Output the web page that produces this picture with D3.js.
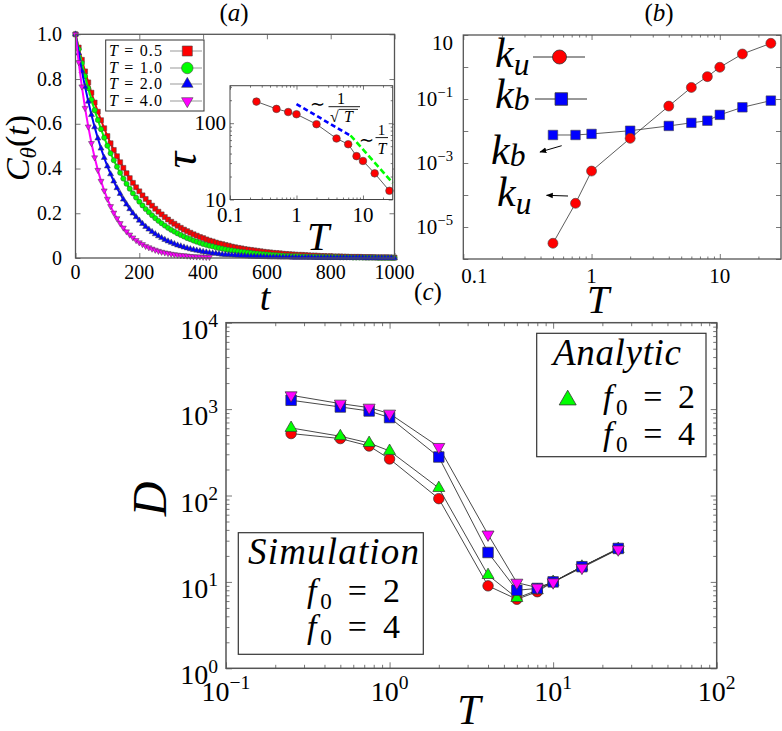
<!DOCTYPE html>
<html><head><meta charset="utf-8">
<script src="https://cdn.jsdelivr.net/npm/d3@7"></script>
<style>
body{margin:0;background:#fff}
svg{display:block}
</style></head><body>
<svg id="c" width="782" height="731"></svg>
<script>
// ---------------- DATA ----------------
// Panel (a): C_theta(t), sampled every tStep
const tStep = 10;
const seriesT = ["0.5", "1.0", "2.0", "4.0"];
const cT05 = [1.000,0.941,0.886,0.834,0.785,0.739,0.695,0.654,0.616,0.580,
0.545,0.513,0.483,0.455,0.428,0.403,0.379,0.357,0.336,0.316,
0.298,0.280,0.264,0.248,0.234,0.220,0.207,0.195,0.183,0.172,
0.162,0.153,0.144,0.135,0.127,0.120,0.113,0.106,0.100,0.094,
0.089,0.083,0.078,0.074,0.069,0.065,0.062,0.058,0.055,0.051,
0.048,0.045,0.043,0.040,0.038,0.036,0.034,0.032,0.030,0.028,
0.026,0.025,0.023,0.022,0.021,0.019,0.018,0.017,0.016,0.015,
0.014,0.014,0.013,0.012,0.011,0.011,0.010,0.009,0.009,0.008,
0.008,0.007,0.007,0.007,0.006,0.006,0.005,0.005,0.005,0.005,
0.004,0.004,0.004,0.004,0.003,0.003,0.003,0.003,0.003,0.002,
0.002];
const cT10 = [1.000,0.933,0.871,0.813,0.759,0.708,0.661,0.617,0.576,0.538,
0.502,0.468,0.437,0.408,0.381,0.355,0.332,0.310,0.289,0.270,
0.252,0.235,0.219,0.205,0.191,0.178,0.166,0.155,0.145,0.135,
0.126,0.118,0.110,0.103,0.096,0.089,0.084,0.078,0.073,0.068,
0.063,0.059,0.055,0.052,0.048,0.045,0.042,0.039,0.036,0.034,
0.032,0.030,0.028,0.026,0.024,0.023,0.021,0.020,0.018,0.017,
0.016,0.015,0.014,0.013,0.012,0.011,0.010,0.010,0.009,0.009,
0.008,0.007,0.007,0.006,0.006,0.006,0.005,0.005,0.005,0.004,
0.004,0.004,0.004,0.003,0.003,0.003,0.003,0.002,0.002,0.002,
0.002,0.002,0.002,0.002,0.002,0.001,0.001,0.001,0.001,0.001,
0.001];
const cT20 = [1.000,0.915,0.836,0.765,0.700,0.640,0.585,0.535,0.490,0.448,
0.410,0.375,0.343,0.313,0.287,0.262,0.240,0.219,0.200,0.183,
0.168,0.153,0.140,0.128,0.117,0.107,0.098,0.090,0.082,0.075,
0.069,0.063,0.057,0.053,0.048,0.044,0.040,0.037,0.034,0.031,
0.028,0.026,0.023,0.021,0.020,0.018,0.016,0.015,0.014,0.013,
0.012,0.011,0.010,0.009,0.008,0.007,0.007,0.006,0.006,0.005,
0.005,0.004,0.004,0.004,0.003,0.003,0.003,0.003,0.002,0.002,
0.002,0.002,0.002,0.002,0.002,0.001,0.001,0.001,0.001,0.001,
0.001,0.001,0.001,0.001,0.001,0.001,0.001,0.001,0.001,0.001,
0.001,0.000,0.000,0.000,0.000,0.000,0.000,0.000,0.000,0.000,
0.000];
const cT40 = [1.000,0.875,0.766,0.670,0.587,0.513,0.449,0.393,0.344,0.301,
0.264,0.231,0.202,0.177,0.155,0.135,0.118,0.104,0.091,0.079,
0.069,0.061,0.053,0.047,0.041,0.036,0.031,0.027,0.024,0.021,
0.018,0.016,0.014,0.012,0.011,0.010,0.008,0.007,0.006,0.006,
0.005,0.004,0.004];
const xTicksA = [0, 200, 400, 600, 800, 1000];
const yTicksA = [0, 0.2, 0.4, 0.6, 0.8, 1.0];
const yLabelsA = ["0", "0.2", "0.4", "0.6", "0.8", "1.0"];

// Inset of (a): tau vs T
const tauT = [0.25, 0.5, 0.75, 1, 2, 4, 6, 8, 10, 15, 25];
const tauVal = [192, 154, 140, 131, 97, 63, 53, 37, 32, 22, 13];
const guideSqrtT = [[1, 178], [6.4, 69]];
const guideInvT = [[6.5, 69], [28, 16.5]];
const insetXTicks = [0.1, 1, 10];
const insetXLabels = ["0.1", "1", "10"];
const insetYTicks = [10, 100];
const insetYLabels = ["10", "100"];

// Panel (b): rates
const kT = [0.5, 0.75, 1, 2, 4, 6, 8, 10, 15, 25];
const ku = [3.1e-6, 5.5e-5, 5.6e-4, 5.9e-3, 0.06, 0.23, 0.5, 0.98, 2.55, 5.5];
const kb = [7.5e-3, 7.5e-3, 8.1e-3, 0.0102, 0.0144, 0.018, 0.021, 0.032, 0.055, 0.089];
const bXTicks = [0.1, 1, 10];
const bXLabels = ["0.1", "1", "10"];
const bYTicks = [1e-6, 1e-5, 1e-4, 1e-3, 1e-2, 1e-1, 1, 10];
const bYLabeled = [[10, "10", ""], [1e-1, "10", "\u22121"], [1e-3, "10", "\u22123"], [1e-5, "10", "\u22125"]];

// Panel (c): D vs T
const dT = [0.25, 0.5, 0.75, 1, 2, 4, 6, 8, 10, 15, 25];
const simF2 = [521, 456, 374, 265, 92, 9.0, 6.3, 7.7, 10, 15, 24];
const anaF2 = [605, 485, 405, 328, 122, 12, 6.5, 8.0, 10, 15, 24];
const simF4 = [1265, 1058, 951, 798, 279, 21.9, 8.0, 8.4, 10.0, 15, 24.4];
const anaF4 = [1445, 1158, 1040, 887, 365, 35.4, 9.8, 8.6, 9.9, 14.6, 23.8];
const cXTicks = [0.1, 1, 10, 100];
const cXExp = ["\u22121", "0", "1", "2"];
const cYTicks = [1, 10, 100, 1000, 10000];
const cYExp = ["0", "1", "2", "3", "4"];

// ---------------- HELPERS ----------------
const FONT = "Liberation Serif";
const svg = d3.select("#c").style("font-family", FONT);
const RED = "#ff0000", GREEN = "#00ff00", BLUE = "#0000ff", MAG = "#ff00ff";

function txt(g, x, y, s, size, anchor) {
  return g.append("text").attr("x", x).attr("y", y).style("font-size", size + "px")
    .attr("text-anchor", anchor || "start").style("font-family", FONT).attr("fill", "#000").text(s);
}

function rich(g, x, y, segs, size, anchor, opts) {
  opts = opts || {};
  const t = g.append("text").attr("x", x).attr("y", y).style("font-size", size + "px")
    .attr("text-anchor", anchor || "start").style("font-family", FONT).attr("fill", "#000");
  if (opts.len) t.attr("textLength", opts.len).attr("lengthAdjust", "spacing");
  if (opts.transform) t.attr("transform", opts.transform);
  let shift = 0;
  const subK = opts.subK == null ? 0.25 : opts.subK;
  segs.forEach(s => {
    const sp = t.append("tspan").text(s.t).style("font-family", FONT);
    if (s.i) sp.style("font-style", "italic");
    const target = s.sub ? size * subK : s.sup ? -size * 0.42 : 0;
    if (target !== shift) { sp.attr("dy", target - shift); shift = target; }
    if (s.sub || s.sup) sp.style("font-size", (size * (opts.subScale || 0.68)) + "px");
  });
  return t;
}

function symPath(type, s) {
  if (type === "sq") return d3.symbol(d3.symbolSquare, s * s)();
  if (type === "ci") return d3.symbol(d3.symbolCircle, Math.PI * s * s / 4)();
  return d3.symbol(d3.symbolTriangle, s * s * Math.sqrt(3) / 4)();
}

function markers(g, xs, ys, pts, type, s, fill, stroke, sw) {
  g.selectAll(null).data(pts).join("path")
    .attr("d", symPath(type, s))
    .attr("transform", d => `translate(${xs(d[0])},${ys(d[1])})${type === "td" ? " rotate(180)" : ""}`)
    .attr("fill", fill).attr("stroke", stroke || "#333").attr("stroke-width", sw || 0.7);
}

function line(g, xs, ys, pts, color, w, dash) {
  const p = g.append("path").datum(pts)
    .attr("d", d3.line().x(d => xs(d[0])).y(d => ys(d[1])))
    .attr("fill", "none").attr("stroke", color).attr("stroke-width", w);
  if (dash) p.attr("stroke-dasharray", dash);
  return p;
}

function addTicks(g, scale, side, vals, len, box) {
  let ax, tr;
  if (side === "bottom") { ax = d3.axisBottom(scale); tr = `translate(0,${box.y1})`; }
  if (side === "top") { ax = d3.axisTop(scale); tr = `translate(0,${box.y0})`; }
  if (side === "left") { ax = d3.axisLeft(scale); tr = `translate(${box.x0},0)`; }
  if (side === "right") { ax = d3.axisRight(scale); tr = `translate(${box.x1},0)`; }
  ax.tickValues(vals).tickSize(-len).tickSizeOuter(0).tickFormat("");
  const a = g.append("g").attr("transform", tr).call(ax);
  a.select(".domain").remove();
  a.selectAll("text").remove();
  a.attr("font-family", null);
  a.selectAll("line").attr("stroke", "#777").attr("stroke-width", 1);
}

function frame(g, box, color, w) {
  g.append("rect").attr("x", box.x0).attr("y", box.y0)
    .attr("width", box.x1 - box.x0).attr("height", box.y1 - box.y0)
    .attr("fill", "none").attr("stroke", color || "#555").attr("stroke-width", w || 1.3);
}

function minors(lo, hi) {
  const out = [];
  for (let e = Math.floor(Math.log10(lo)); e <= Math.ceil(Math.log10(hi)); e++) {
    for (let m = 2; m <= 9; m++) { const v = m * Math.pow(10, e); if (v > lo && v < hi) out.push(v); }
  }
  return out;
}

// ---------------- PANEL (a) ----------------
const gA = svg.append("g");
const boxA = { x0: 75.5, y0: 34.3, x1: 394.5, y1: 258 };
const xA = d3.scaleLinear().domain([0, 1000]).range([boxA.x0, boxA.x1]);
const yA = d3.scaleLinear().domain([0, 1]).range([boxA.y1, boxA.y0]);

addTicks(gA, xA, "bottom", xTicksA, 5, boxA);
addTicks(gA, xA, "top", xTicksA, 5, boxA);
addTicks(gA, yA, "left", yTicksA, 5, boxA);
addTicks(gA, yA, "right", yTicksA, 5, boxA);

const seriesA = [[cT05, "sq", 5, RED], [cT10, "ci", 5.2, GREEN], [cT20, "tu", 6, BLUE], [cT40, "td", 6, MAG]];
seriesA.forEach(([vals, type, s, col]) => {
  const pts = vals.map((v, i) => [i * tStep, v]);
  line(gA, xA, yA, pts, col, 2);
  markers(gA, xA, yA, pts, type, s, col, "#444", 0.5);
});
frame(gA, boxA, "#555", 1.3);

yTicksA.forEach((v, i) => txt(gA, 62, yA(v) + 6.5, yLabelsA[i], 20, "end"));
xTicksA.forEach(v => txt(gA, xA(v), 279, String(v), 20, "middle"));

rich(gA, 265, 310, [{ t: "t", i: 1 }], 38, "middle");
rich(gA, 0, 0, [{ t: "C", i: 1 }, { t: "\u03b8", i: 1, sub: 1 }, { t: "(" }, { t: "t", i: 1 }, { t: ")" }], 34, "middle",
  { transform: "translate(29,148) rotate(-90)", subK: 0.22 });
rich(gA, 234, 21, [{ t: "(" }, { t: "a", i: 1 }, { t: ")" }], 25, "middle");

// legend (a)
const legA = gA.append("g");
legA.append("rect").attr("x", 105.7).attr("y", 40).attr("width", 98.3).attr("height", 71)
  .attr("fill", "#fff").attr("stroke", "#333").attr("stroke-width", 1);
const legY = [51, 68, 84, 101];
seriesA.forEach(([vals, type, s, col], i) => {
  const y = legY[i];
  rich(legA, 109, y + 5, [{ t: "T", i: 1 }, { t: " = " + seriesT[i] }], 16, "start", { len: 53 });
  legA.append("line").attr("x1", 170).attr("x2", 202).attr("y1", y).attr("y2", y)
    .attr("stroke", "#999").attr("stroke-width", 1);
  legA.append("path").attr("d", symPath(type, type === "sq" ? 10 : 11.5))
    .attr("transform", `translate(187.3,${y})${type === "td" ? " rotate(180)" : ""}`)
    .attr("fill", col).attr("stroke", "#444").attr("stroke-width", 0.6);
});

// inset
const gI = svg.append("g");
const boxI = { x0: 230, y0: 85.7, x1: 392.7, y1: 199.5 };
const xI = d3.scaleLog().domain([0.1, 28]).range([boxI.x0, boxI.x1]);
const yI = d3.scaleLog().domain([10, 310]).range([boxI.y1, boxI.y0]);
gI.append("rect").attr("x", boxI.x0).attr("y", boxI.y0).attr("width", boxI.x1 - boxI.x0)
  .attr("height", boxI.y1 - boxI.y0).attr("fill", "#fff");
addTicks(gI, xI, "bottom", insetXTicks, 4, boxI);
addTicks(gI, xI, "top", insetXTicks, 4, boxI);
addTicks(gI, xI, "bottom", minors(0.1, 28), 2, boxI);
addTicks(gI, xI, "top", minors(0.1, 28), 2, boxI);
addTicks(gI, yI, "left", insetYTicks, 4, boxI);
addTicks(gI, yI, "right", insetYTicks, 4, boxI);
addTicks(gI, yI, "left", minors(10, 310), 2, boxI);
addTicks(gI, yI, "right", minors(10, 310), 2, boxI);
line(gI, xI, yI, guideSqrtT, BLUE, 2.6, "5,3");
line(gI, xI, yI, guideInvT, GREEN, 2.6, "6,3");
const tauPts = tauT.map((t, i) => [t, tauVal[i]]);
line(gI, xI, yI, tauPts, "#333", 0.8);
markers(gI, xI, yI, tauPts, "ci", 7.6, RED, "#444", 0.6);
frame(gI, boxI, "#444", 1);
insetYTicks.forEach((v, i) => txt(gI, 226, yI(v) + 7, insetYLabels[i], 21, "end"));
insetXTicks.forEach((v, i) => txt(gI, xI(v), 222, insetXLabels[i], 21, "middle"));
rich(gI, 0, 0, [{ t: "\u03c4", i: 1 }], 46, "middle", { transform: "translate(196,160) rotate(-90)" });
rich(gI, 318, 250, [{ t: "T", i: 1 }], 40, "middle");
// annotations ~1/sqrt(T), ~1/T
txt(gI, 317, 110, "\u223c", 18, "middle");
txt(gI, 341, 104, "1", 16, "middle");
gI.append("line").attr("x1", 328.5).attr("x2", 360).attr("y1", 106.7).attr("y2", 106.7).attr("stroke", "#000").attr("stroke-width", 0.9);
txt(gI, 330, 122, "\u221a", 16, "start");
gI.append("line").attr("x1", 339).attr("x2", 358).attr("y1", 109.4).attr("y2", 109.4).attr("stroke", "#000").attr("stroke-width", 0.8);
rich(gI, 348.5, 122, [{ t: "T", i: 1 }], 16, "middle");
txt(gI, 366, 146, "\u223c", 18, "middle");
txt(gI, 381.5, 135, "1", 15, "middle");
gI.append("line").attr("x1", 375.5).attr("x2", 388).attr("y1", 137.6).attr("y2", 137.6).attr("stroke", "#000").attr("stroke-width", 0.9);
rich(gI, 382, 154, [{ t: "T", i: 1 }], 16, "middle");

// ---------------- PANEL (b) ----------------
const gB = svg.append("g");
const boxB = { x0: 463.3, y0: 35, x1: 781, y1: 259 };
const xB = d3.scaleLog().domain([0.1, 30]).range([boxB.x0, boxB.x1]);
const yB = d3.scaleLog().domain([1e-6, 10]).range([boxB.y1, boxB.y0]);
addTicks(gB, xB, "bottom", bXTicks, 5, boxB);
addTicks(gB, xB, "top", bXTicks, 5, boxB);
addTicks(gB, xB, "bottom", minors(0.1, 30), 2.5, boxB);
addTicks(gB, xB, "top", minors(0.1, 30), 2.5, boxB);
addTicks(gB, yB, "left", bYTicks, 5, boxB);
addTicks(gB, yB, "right", bYTicks, 5, boxB);
const kuPts = kT.map((t, i) => [t, ku[i]]);
const kbPts = kT.map((t, i) => [t, kb[i]]);
line(gB, xB, yB, kuPts, "#333", 0.8);
line(gB, xB, yB, kbPts, "#333", 0.8);
markers(gB, xB, yB, kbPts, "sq", 9.5, BLUE, "#444", 0.6);
markers(gB, xB, yB, kuPts, "ci", 10, RED, "#444", 0.6);
frame(gB, boxB, "#555", 1.3);
bYLabeled.forEach(([v, base, ex]) => {
  const yy = v === 10 ? 50 : yB(v) + 7;
  const segs = [{ t: base }];
  if (ex) segs.push({ t: ex, sup: 1 });
  rich(gB, 453, yy, segs, 21, "end", { subScale: 0.7 });
});
bXTicks.forEach((v, i) => txt(gB, xB(v) + (i === 0 ? 11 : 0), 283, bXLabels[i], 21, "middle"));
rich(gB, 598, 313, [{ t: "T", i: 1 }], 40, "middle");
rich(gB, 659, 21, [{ t: "(" }, { t: "b", i: 1 }, { t: ")" }], 25, "middle");
// legend (b)
rich(gB, 495, 67, [{ t: "k", i: 1 }, { t: "u", i: 1, sub: 1 }], 42, "start", { subK: 0.2, subScale: 0.75 });
gB.append("line").attr("x1", 533).attr("x2", 585).attr("y1", 57).attr("y2", 57).attr("stroke", "#333").attr("stroke-width", 1);
gB.append("path").attr("d", symPath("ci", 14)).attr("transform", "translate(559.5,57)").attr("fill", RED).attr("stroke", "#333").attr("stroke-width", 0.8);
rich(gB, 495, 108, [{ t: "k", i: 1 }, { t: "b", i: 1, sub: 1 }], 42, "start", { subK: 0.05, subScale: 0.75 });
gB.append("line").attr("x1", 535).attr("x2", 587).attr("y1", 99).attr("y2", 99).attr("stroke", "#333").attr("stroke-width", 1);
gB.append("path").attr("d", symPath("sq", 12.5)).attr("transform", "translate(561.3,99)").attr("fill", BLUE).attr("stroke", "#333").attr("stroke-width", 0.8);
// annotations
const defs = svg.append("defs");
defs.append("marker").attr("id", "ah").attr("viewBox", "0 0 10 10").attr("refX", 9).attr("refY", 5)
  .attr("markerWidth", 7).attr("markerHeight", 7).attr("orient", "auto-start-reverse")
  .append("path").attr("d", "M0,1 L10,5 L0,9 z").attr("fill", "#000");
rich(gB, 491, 164, [{ t: "k", i: 1 }, { t: "b", i: 1, sub: 1 }], 42, "start", { subK: 0.05, subScale: 0.75 });
gB.append("line").attr("x1", 561.7).attr("y1", 145.7).attr("x2", 540).attr("y2", 152)
  .attr("stroke", "#000").attr("stroke-width", 1).attr("marker-end", "url(#ah)");
rich(gB, 497, 206, [{ t: "k", i: 1 }, { t: "u", i: 1, sub: 1 }], 42, "start", { subK: 0.2, subScale: 0.75 });
gB.append("line").attr("x1", 568).attr("y1", 196).attr("x2", 546.5).attr("y2", 195.3)
  .attr("stroke", "#000").attr("stroke-width", 1).attr("marker-end", "url(#ah)");

// ---------------- PANEL (c) ----------------
const gC = svg.append("g");
const boxC = { x0: 226, y0: 322.7, x1: 716.7, y1: 668.3 };
const xC = d3.scaleLog().domain([0.1, 100]).range([boxC.x0, boxC.x1]);
const yC = d3.scaleLog().domain([1, 10000]).range([boxC.y1, boxC.y0]);
["bottom", "top"].forEach(s => { addTicks(gC, xC, s, cXTicks, 6, boxC); addTicks(gC, xC, s, minors(0.1, 100), 3.5, boxC); });
["left", "right"].forEach(s => { addTicks(gC, yC, s, cYTicks, 6, boxC); addTicks(gC, yC, s, minors(1, 10000), 3.5, boxC); });

const seriesC = [[simF2, "ci", 10.5, RED], [anaF2, "tu", 12, GREEN], [simF4, "sq", 10.5, BLUE], [anaF4, "td", 12, MAG]];
seriesC.forEach(([vals, type, s, col]) => line(gC, xC, yC, dT.map((t, i) => [t, vals[i]]), "#333", 0.9));
seriesC.forEach(([vals, type, s, col]) => markers(gC, xC, yC, dT.map((t, i) => [t, vals[i]]), type, s, col, "#333", 0.7));
frame(gC, boxC, "#555", 1.5);

cYTicks.forEach((v, i) => rich(gC, 218, yC(v) + 16, [{ t: "10" }, { t: cYExp[i], sup: 1 }], 28, "end", { subScale: 0.7 }));
cXTicks.forEach((v, i) => rich(gC, xC(v), 701, [{ t: "10" }, { t: cXExp[i], sup: 1 }], 28, "middle", { subScale: 0.7 }));
rich(gC, 0, 0, [{ t: "D", i: 1 }], 48, "middle", { transform: "translate(166,499) rotate(-90)" });
rich(gC, 469, 724, [{ t: "T", i: 1 }], 42, "middle");
rich(gC, 428, 300, [{ t: "(" }, { t: "c", i: 1 }, { t: ")" }], 25, "middle");

// legends (c)
gC.append("rect").attr("x", 536.7).attr("y", 333.3).attr("width", 169.3).attr("height", 123.4)
  .attr("fill", "#fff").attr("stroke", "#333").attr("stroke-width", 1.2);
rich(gC, 553, 365, [{ t: "Analytic", i: 1 }], 37, "start", { len: 128 });
gC.append("path").attr("d", symPath("tu", 17)).attr("transform", "translate(567.7,400)")
  .attr("fill", GREEN).attr("stroke", "#333").attr("stroke-width", 0.8);
rich(gC, 603, 408, [{ t: "f", i: 1 }, { t: "0", sub: 1 }, { t: " = 2" }], 34, "start", { len: 92, subK: 0.22 });
rich(gC, 603, 445, [{ t: "f", i: 1 }, { t: "0", sub: 1 }, { t: " = 4" }], 34, "start", { len: 92, subK: 0.22 });

gC.append("rect").attr("x", 238.3).attr("y", 532.7).attr("width", 185).attr("height", 121.6)
  .attr("fill", "#fff").attr("stroke", "#333").attr("stroke-width", 1.2);
rich(gC, 248, 564, [{ t: "Simulation", i: 1 }], 37, "start", { len: 171 });
rich(gC, 307, 602, [{ t: "f", i: 1 }, { t: "0", sub: 1 }, { t: " = 2" }], 34, "start", { len: 93, subK: 0.22 });
rich(gC, 307, 638, [{ t: "f", i: 1 }, { t: "0", sub: 1 }, { t: " = 4" }], 34, "start", { len: 93, subK: 0.22 });
</script>
</body></html>
